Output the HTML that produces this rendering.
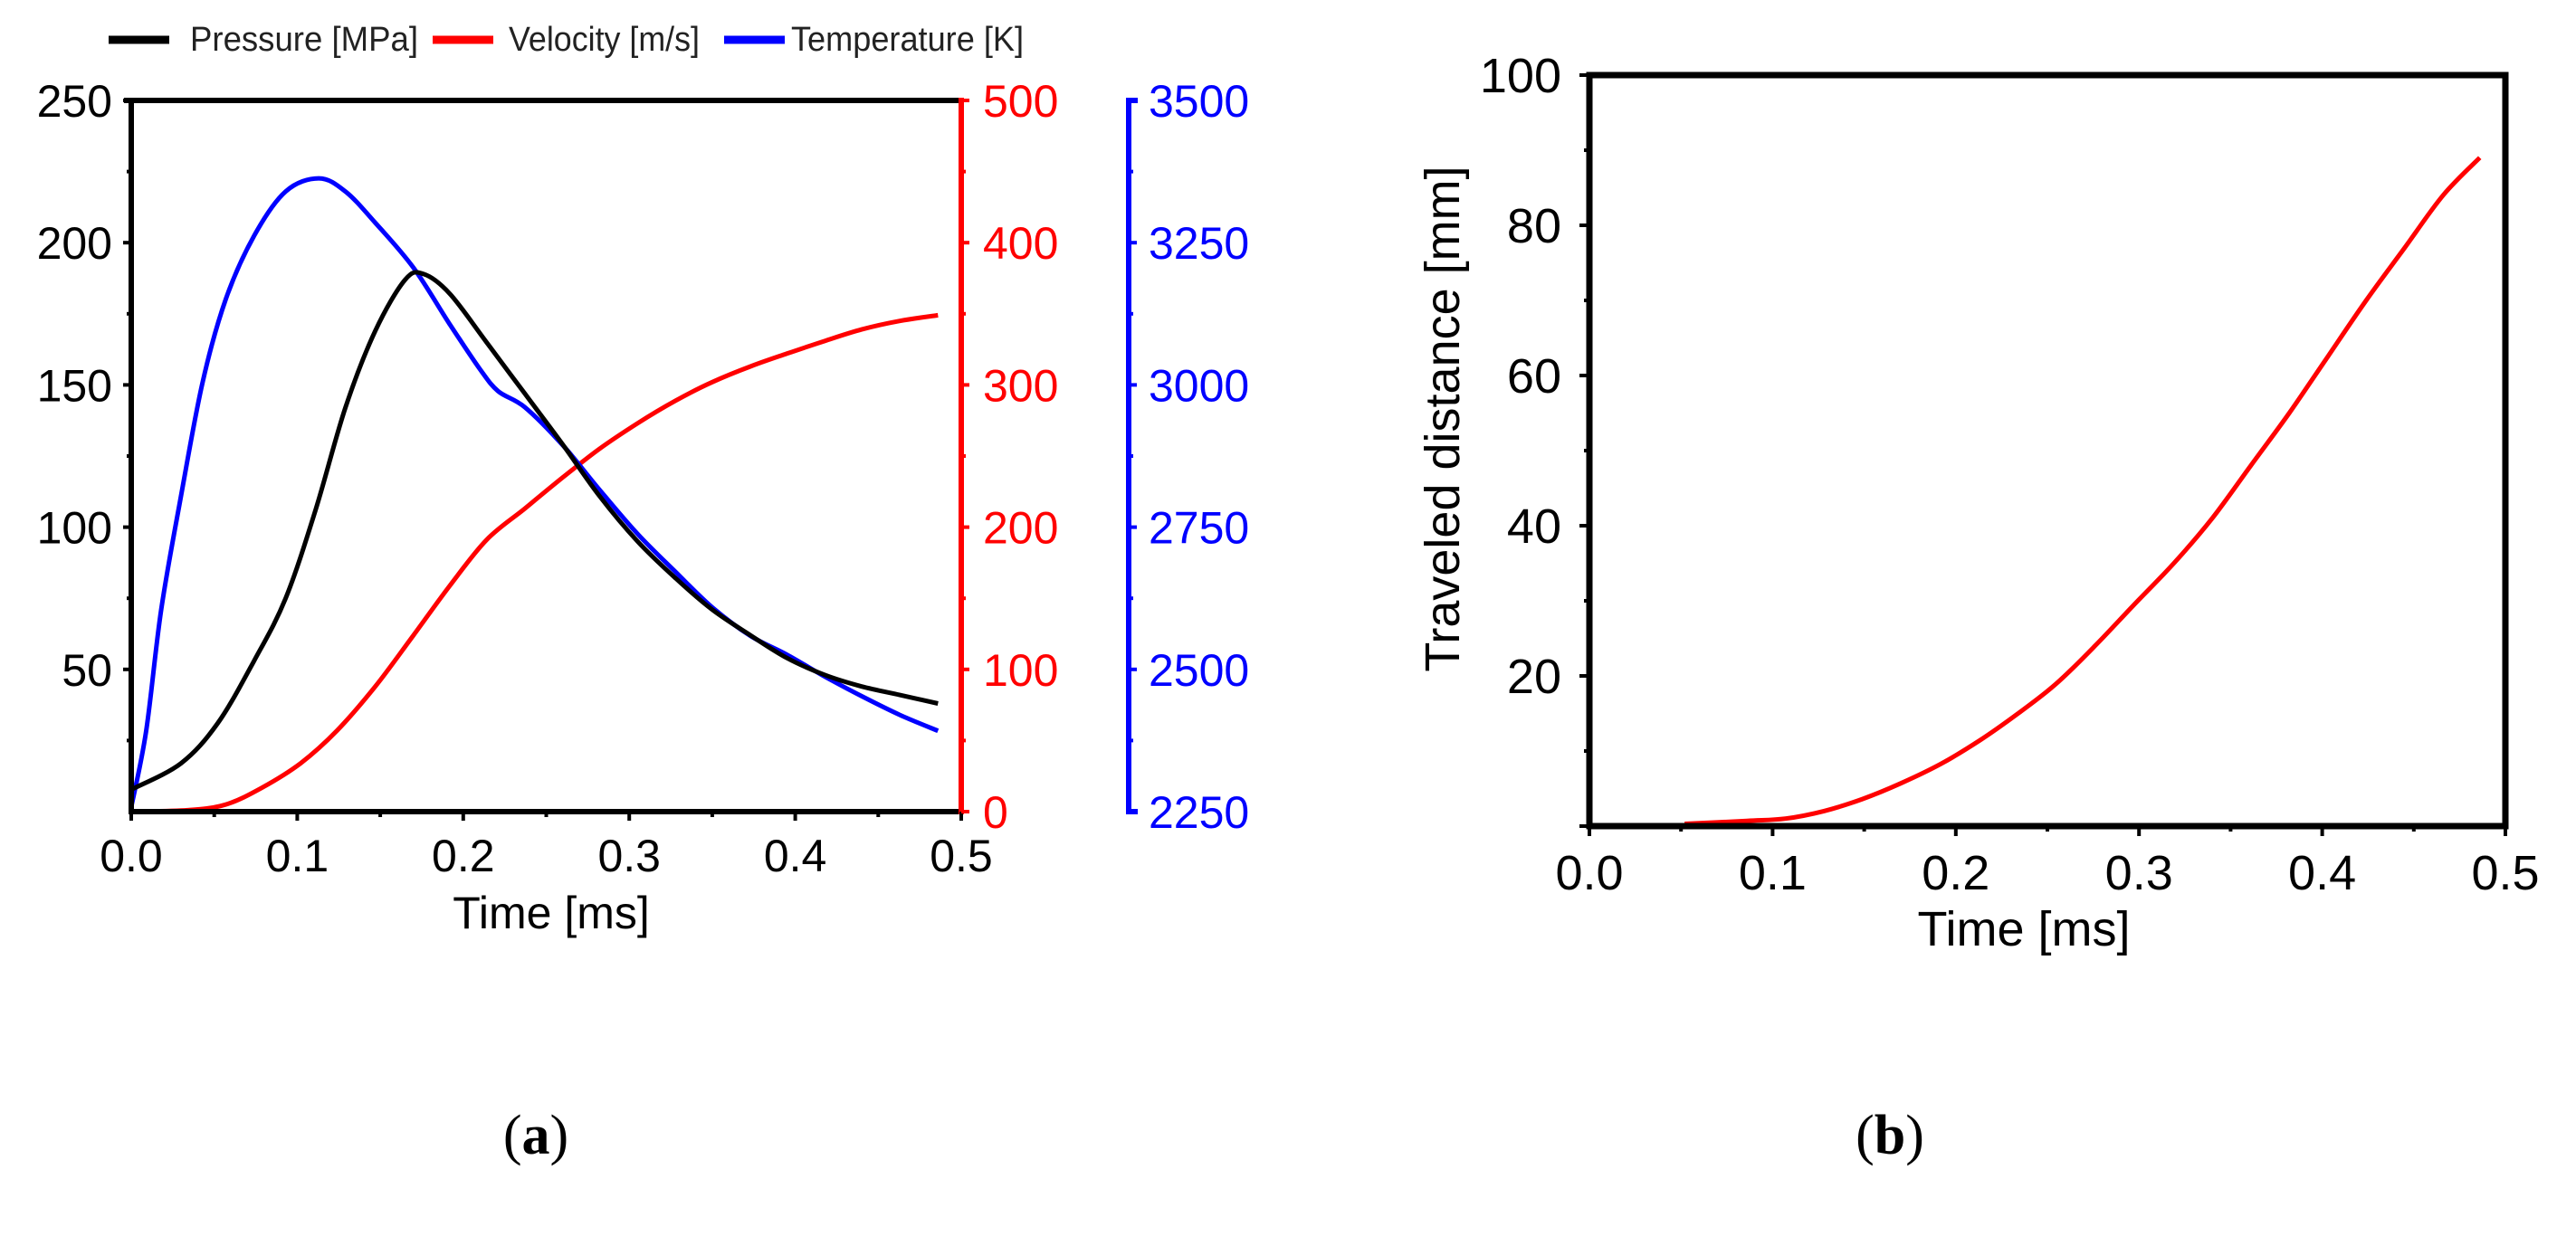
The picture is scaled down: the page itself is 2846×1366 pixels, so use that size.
<!DOCTYPE html>
<html><head><meta charset="utf-8"><style>
html,body{margin:0;padding:0;background:#fff;}
svg{display:block;}
text{font-family:"Liberation Sans",Arial,sans-serif;}
</style></head><body>
<svg id="fig" width="2846" height="1366" viewBox="0 0 2846 1366" xmlns="http://www.w3.org/2000/svg">
<g id="chartA"></g>
<g id="chartB"></g>
<text x="592" y="1275" text-anchor="middle" font-size="62" style="font-family:'Liberation Serif',serif">(<tspan font-weight="bold">a</tspan>)</text>
<text x="2088" y="1275" text-anchor="middle" font-size="62" style="font-family:'Liberation Serif',serif">(<tspan font-weight="bold">b</tspan>)</text>
</svg>
<script>
// ---- Chart A data ----
const pTimes=[0.001,0.03,0.052,0.074,0.093,0.111,0.129,0.147,0.165,0.176,0.192,0.214,0.237,0.26,0.282,0.305,0.328,0.35,0.373,0.395,0.418,0.44,0.463,0.486];
const pressure=[8,17,31,53,75,106,142,169,187,189,182,165,147,129,111,95,82,71,62,54,48,44,41,38];
const tTimes=[0,0.009,0.018,0.03,0.043,0.057,0.074,0.093,0.113,0.129,0.147,0.17,0.192,0.21,0.221,0.237,0.26,0.282,0.305,0.328,0.35,0.373,0.395,0.418,0.44,0.463,0.486];
const temperature=[2258,2392,2604,2805,3005,3151,3262,3340,3363,3340,3285,3206,3106,3028,2989,2961,2894,2816,2738,2671,2609,2559,2526,2487,2453,2420,2392];
const vTimes=[0.002,0.034,0.057,0.079,0.102,0.124,0.147,0.17,0.192,0.214,0.237,0.26,0.282,0.305,0.328,0.35,0.373,0.395,0.418,0.44,0.463,0.486];
const velocity=[0,1,5,17,34,57,88,124,159,191,213,235,255,273,289,302,313,322,331,339,345,349];
const xTickLabels=["0.0","0.1","0.2","0.3","0.4","0.5"];
const pTickLabels=["50","100","150","200","250"];
const vTickLabels=["0","100","200","300","400","500"];
const tTickLabels=["2250","2500","2750","3000","3250","3500"];
// ---- Chart B data ----
const dTimes=[0.052,0.086,0.107,0.128,0.149,0.17,0.192,0.213,0.234,0.255,0.276,0.297,0.319,0.34,0.361,0.382,0.403,0.424,0.445,0.466,0.486];
const distance=[0.3,0.7,1,2,3.6,5.7,8.3,11.4,15,19,24,29.4,35,41,48,55,62.5,70,77,84,89];
const dTickLabels=["20","40","60","80","100"];

const NS="http://www.w3.org/2000/svg";
function mk(parent,tag,attrs,txt){const e=document.createElementNS(NS,tag);for(const k in attrs)e.setAttribute(k,attrs[k]);if(txt!==undefined)e.textContent=txt;parent.appendChild(e);return e;}
function smooth(xs,ys,fx,fy){
  const P=xs.map((x,i)=>[fx(x),fy(ys[i])]);
  let d='M'+P[0][0].toFixed(1)+','+P[0][1].toFixed(1);
  for(let i=0;i<P.length-1;i++){
    const p0=P[i-1]||P[i],p1=P[i],p2=P[i+1],p3=P[i+2]||P[i+1];
    const c1=[p1[0]+(p2[0]-p0[0])/6,p1[1]+(p2[1]-p0[1])/6];
    const c2=[p2[0]-(p3[0]-p1[0])/6,p2[1]-(p3[1]-p1[1])/6];
    d+=' C'+c1.map(v=>v.toFixed(1)).join(',')+' '+c2.map(v=>v.toFixed(1)).join(',')+' '+p2.map(v=>v.toFixed(1)).join(',');
  }
  return d;
}

// Chart A
const A=document.getElementById('chartA');
const ax={l:145,r:1062,t:111,b:897};
const xA=t=>ax.l+(t/0.5)*(ax.r-ax.l);
const yP=v=>ax.b-(v/250)*(ax.b-ax.t);
const yV=v=>ax.b-(v/500)*(ax.b-ax.t);
const yT=v=>ax.b-((v-2250)/1250)*(ax.b-ax.t);

// legend
const leg=[["Pressure [MPa]","#000",120,210,252],["Velocity [m/s]","#f00",478,562,211],["Temperature [K]","#00f",800,874,257]];
leg.forEach(l=>{
  let g=mk(A,'g',{});
  
  
  mk(g,'line',{x1:l[2],x2:l[2]+67,y1:44,y2:44,stroke:l[1],'stroke-width':9});
  mk(g,'text',{x:l[3],y:56,'font-size':38,fill:'#222',textLength:l[4],lengthAdjust:'spacingAndGlyphs'},l[0]);
});
// series
let s;
s=mk(A,'path',{d:smooth(vTimes,velocity,xA,yV),fill:'none',stroke:'#f00','stroke-width':5,'stroke-linejoin':'round'});


s=mk(A,'path',{d:smooth(tTimes,temperature,xA,yT),fill:'none',stroke:'#00f','stroke-width':5,'stroke-linejoin':'round'});


s=mk(A,'path',{d:smooth(pTimes,pressure,xA,yP),fill:'none',stroke:'#000','stroke-width':5,'stroke-linejoin':'round'});


// axes frame
mk(A,'line',{x1:ax.l-8,x2:ax.r,y1:ax.t,y2:ax.t,stroke:'#000','stroke-width':6});
mk(A,'line',{x1:ax.l,x2:ax.r,y1:ax.b,y2:ax.b,stroke:'#000','stroke-width':6});
mk(A,'line',{x1:ax.l,x2:ax.l,y1:ax.t,y2:ax.b+3,stroke:'#000','stroke-width':6});
mk(A,'line',{x1:ax.r,x2:ax.r,y1:ax.t-3,y2:ax.b+3,stroke:'#f00','stroke-width':6});
const bx=1247;
mk(A,'polyline',{points:`${bx+10},${ax.t} ${bx},${ax.t} ${bx},${ax.b} ${bx+10},${ax.b}`,fill:'none',stroke:'#00f','stroke-width':6});
// x ticks
for(let i=0;i<=10;i++){const x=xA(i*0.05);mk(A,'line',{x1:x,x2:x,y1:ax.b,y2:ax.b+(i%2?6:10),stroke:'#000','stroke-width':4});}
xTickLabels.forEach((lb,i)=>{let e=mk(A,'text',{x:xA(i*0.1),y:963,'text-anchor':'middle','font-size':50},lb);

});
let t=mk(A,'text',{x:609,y:1026,'text-anchor':'middle','font-size':50},'Time [ms]');


// pressure ticks
for(let i=1;i<=10;i++){const y=yP(i*25);mk(A,'line',{x1:ax.l-(i%2?5:9),x2:ax.l,y1:y,y2:y,stroke:'#000','stroke-width':4});}
pTickLabels.forEach((lb,i)=>{let e=mk(A,'text',{x:124,y:yP((i+1)*50)+18,'text-anchor':'end','font-size':50},lb);

});
// velocity ticks
for(let i=0;i<=10;i++){const y=yV(i*50);mk(A,'line',{x1:ax.r,x2:ax.r+(i%2?5:9),y1:y,y2:y,stroke:'#f00','stroke-width':4});}
vTickLabels.forEach((lb,i)=>{let e=mk(A,'text',{x:1086,y:yV(i*100)+18,'font-size':50,fill:'#f00'},lb);

});
// temperature ticks
for(let i=0;i<=10;i++){const y=yT(2250+i*125);mk(A,'line',{x1:bx,x2:bx+(i%2?5:9),y1:y,y2:y,stroke:'#00f','stroke-width':4});}
tTickLabels.forEach((lb,i)=>{let e=mk(A,'text',{x:1269,y:yT(2250+i*250)+18,'font-size':50,fill:'#00f'},lb);

});

// Chart B
const B=document.getElementById('chartB');
const bxs={l:1756,r:2768,t:83,b:913};
const xB=t=>bxs.l+(t/0.5)*(bxs.r-bxs.l);
const yD=v=>bxs.b-(v/100)*(bxs.b-bxs.t);
s=mk(B,'path',{d:smooth(dTimes,distance,xB,yD),fill:'none',stroke:'#f00','stroke-width':5,'stroke-linejoin':'round'});


mk(B,'rect',{x:bxs.l,y:bxs.t,width:bxs.r-bxs.l,height:bxs.b-bxs.t,fill:'none',stroke:'#000','stroke-width':7});
for(let i=0;i<=10;i++){const x=xB(i*0.05);mk(B,'line',{x1:x,x2:x,y1:bxs.b,y2:bxs.b+(i%2?6:11),stroke:'#000','stroke-width':4});}
for(let i=0;i<=10;i++){const y=yD(i*10);mk(B,'line',{x1:bxs.l-(i%2?6:11),x2:bxs.l,y1:y,y2:y,stroke:'#000','stroke-width':4});}
xTickLabels.forEach((lb,i)=>{let e=mk(B,'text',{x:xB(i*0.1),y:983,'text-anchor':'middle','font-size':54},lb);

});
dTickLabels.forEach((lb,i)=>{let e=mk(B,'text',{x:1725,y:yD((i+1)*20)+19,'text-anchor':'end','font-size':54},lb);

});
t=mk(B,'text',{x:2236,y:1045,'text-anchor':'middle','font-size':54},'Time [ms]');


t=mk(B,'text',{x:0,y:0,'text-anchor':'middle','font-size':54,transform:'translate(1612,463) rotate(-90)'},'Traveled distance [mm]');


</script>
</body></html>
